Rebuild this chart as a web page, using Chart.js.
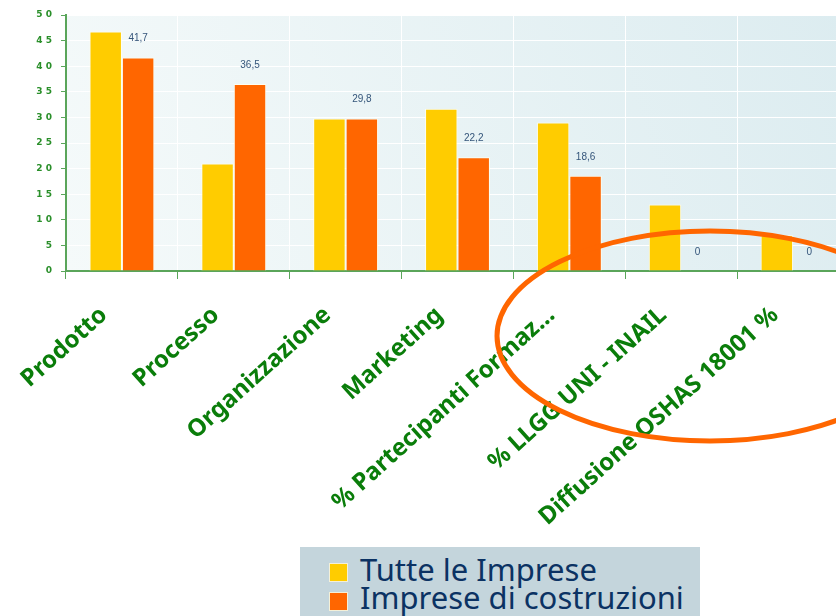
<!DOCTYPE html>
<html>
<head>
<meta charset="utf-8">
<script src="https://cdn.jsdelivr.net/npm/chart.js@4/dist/chart.umd.min.js"></script>
<style>
  html, body { margin: 0; padding: 0; background: #fff; overflow: hidden; }
  #wrap { position: relative; width: 836px; height: 616px; overflow: hidden; }
  #chart { position: absolute; left: 0; top: 0; }
  #legend {
    position: absolute; left: 300px; top: 547px; width: 400px; height: 69px;
    background: #c4d5dc; font-family: "Noto Sans", sans-serif; font-size: 31px;
    color: #0b3263; line-height: 28px;
  }
  .sw { position: absolute; left: 29px; width: 19px; height: 19px; border: 1px solid #f4f0d8; box-sizing: border-box; }
  .txt { position: absolute; left: 60px; white-space: nowrap; }
</style>
</head>
<body>
<div id="wrap">
  <canvas id="chart" width="849" height="616"></canvas>
  <div id="legend">
    <div class="sw" style="top:16px;background:#ffcc00"></div>
    <div class="sw" style="top:45px;background:#ff6600"></div>
    <div class="txt" style="top:8px">Tutte le Imprese</div>
    <div class="txt" style="top:36px">Imprese di costruzioni</div>
  </div>
</div>
<script>
console.log('innovation chart initializing...')
// Categories and values
const categories = ['Prodotto', 'Processo', 'Organizzazione', 'Marketing', '% Partecipanti Formaz...', '% LLGG UNI - INAIL', 'Diffusione OSHAS 18001 %'];
const tutteLeImprese = [46.8, 21, 29.8, 31.7, 29, 13, 7];
const impreseCostruzioni = [41.7, 36.5, 29.8, 22.2, 18.6, 0, 0];
const seriesNames = ['Tutte le Imprese', 'Imprese di costruzioni'];
const yTicks = [0, 5, 10, 15, 20, 25, 30, 35, 40, 45, 50];

const green = '#2a8f2a';
const axisGreen = '#5aa55a';

// light gradient behind the plot
const plotBackground = {
    id: 'plotBackground',
    beforeDraw(chart) {
        const { ctx, chartArea: a } = chart;
        const g = ctx.createLinearGradient(a.left, a.bottom, a.right, a.top);
        g.addColorStop(0, '#f5fafa');
        g.addColorStop(1, '#dcecf0');
        ctx.save();
        ctx.fillStyle = g;
        ctx.fillRect(a.left, a.top, a.right - a.left, a.bottom - a.top);
        ctx.restore();
    }
};

// value labels above the orange bars
const valueLabels = {
    id: 'valueLabels',
    afterDatasetsDraw(chart) {
        const { ctx } = chart;
        const meta = chart.getDatasetMeta(1);
        ctx.save();
        ctx.font = '10px "Liberation Sans", Arial, sans-serif';
        ctx.fillStyle = '#34557a';
        ctx.textAlign = 'center';
        ctx.textBaseline = 'middle';
        meta.data.forEach((bar, i) => {
            const v = impreseCostruzioni[i];
            ctx.fillText(String(v).replace('.', ','), bar.x, bar.y - 19);
        });
        ctx.restore();
    }
};

// the hand-drawn orange ring around the last categories
const highlightRing = {
    id: 'highlightRing',
    afterDraw(chart) {
        const { ctx } = chart;
        ctx.save();
        ctx.strokeStyle = '#ff6600';
        ctx.lineWidth = 5;
        ctx.beginPath();
        ctx.ellipse(710, 336, 213, 105, 0, 0, Math.PI * 2);
        ctx.stroke();
        ctx.restore();
    }
};

new Chart(document.getElementById('chart'), {
    type: 'bar',
    data: {
        labels: categories,
        datasets: [{
            label: seriesNames[0],
            data: tutteLeImprese,
            backgroundColor: '#ffcc00',
            borderColor: 'rgba(255,255,240,0.9)',
            borderWidth: 1
        }, {
            label: seriesNames[1],
            data: impreseCostruzioni,
            backgroundColor: '#ff6600',
            borderColor: 'rgba(255,255,240,0.9)',
            borderWidth: 1
        }]
    },
    options: {
        responsive: false,
        animation: false,
        layout: {
            padding: { top: 15, right: 0, left: 0, bottom: 0 }
        },
        datasets: {
            bar: { categoryPercentage: 0.58, barPercentage: 1.0 }
        },
        scales: {
            x: {
                afterFit(scale) { scale.height = 345; },
                grid: {
                    color: '#ffffff',
                    tickColor: axisGreen,
                    tickLength: 8,
                    offset: true
                },
                border: { color: axisGreen, width: 2 },
                ticks: {
                    autoSkip: false,
                    maxRotation: 42,
                    minRotation: 42,
                    color: '#0a7d0a',
                    padding: 22,
                    labelOffset: -18,
                    font: { family: '"Noto Sans", sans-serif', size: 24, weight: 'bold' }
                }
            },
            y: {
                min: 0,
                max: 50,
                afterFit(scale) { scale.width = 66; },
                afterBuildTicks(scale) { scale.ticks = yTicks.map(v => ({ value: v })); },
                grid: {
                    color: '#ffffff',
                    tickColor: axisGreen,
                    tickLength: 5
                },
                border: { color: axisGreen, width: 2 },
                ticks: {
                    color: green,
                    padding: 9,
                    font: { family: '"DejaVu Sans", sans-serif', size: 9, weight: 'bold' },
                    callback: v => String(v).split('').join(' ')
                }
            }
        },
        plugins: {
            legend: { display: false },
            tooltip: { enabled: false }
        }
    },
    plugins: [plotBackground, valueLabels, highlightRing]
});
</script>
</body>
</html>
